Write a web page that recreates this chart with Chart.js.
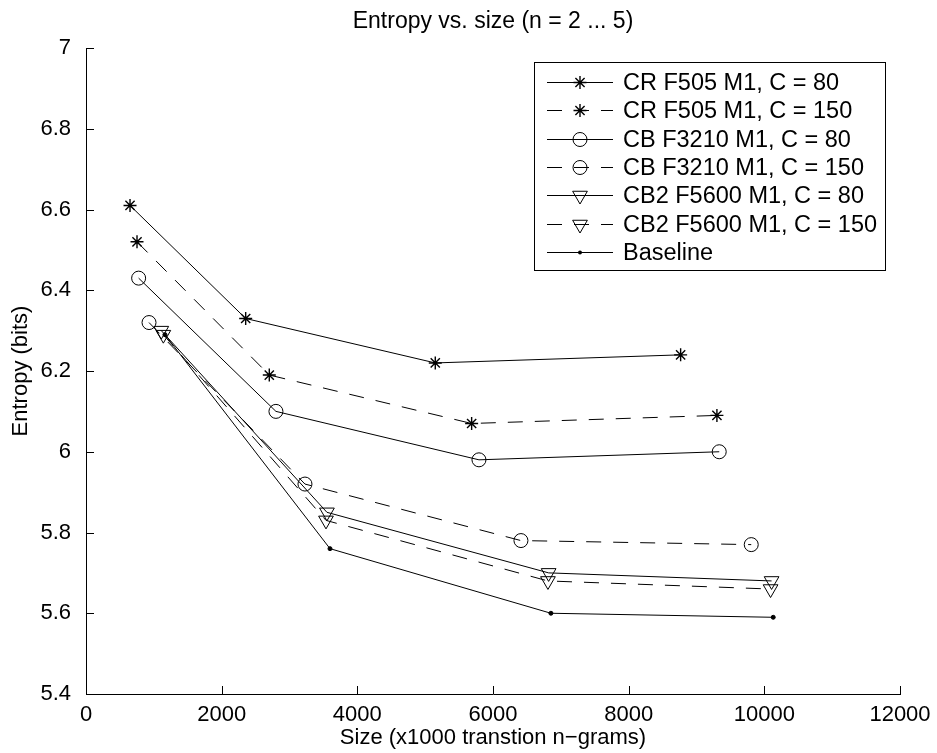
<!DOCTYPE html>
<html>
<head>
<meta charset="utf-8">
<title>Entropy vs. size</title>
<script src="https://cdn.jsdelivr.net/npm/chart.js@4.4.1/dist/chart.umd.min.js"></script>
<style>
  body { margin: 0; background: #fff; }
  canvas { display: block; }
</style>
</head>
<body>
<canvas id="entropyChart" width="937" height="753"></canvas>
<script>
// ============= Dados =============
const seriesNames = [
  "CR F505 M1, C = 80",
  "CR F505 M1, C = 150",
  "CB F3210 M1, C = 80",
  "CB F3210 M1, C = 150",
  "CB2 F5600 M1, C = 80",
  "CB2 F5600 M1, C = 150",
  "Baseline",
];

const crC80X = [649, 2354, 5149, 8766];
const crC80Y = [6.61, 6.33, 6.22, 6.24];
const crC150X = [752, 2702, 5685, 9301];
const crC150Y = [6.52, 6.19, 6.07, 6.09];
const cbC80X = [776, 2800, 5793, 9335];
const cbC80Y = [6.43, 6.1, 5.98, 6.0];
const cbC150X = [929, 3228, 6412, 9807];
const cbC150Y = [6.32, 5.92, 5.78, 5.77];
const cb2C80X = [1110, 3552, 6820, 10107];
const cb2C80Y = [6.3, 5.85, 5.7, 5.68];
const cb2C150X = [1140, 3538, 6810, 10092];
const cb2C150Y = [6.29, 5.83, 5.68, 5.66];
const baselineX = [1164, 3597, 6854, 10131];
const baselineY = [6.29, 5.76, 5.6, 5.59];

const xTicks = [0, 2000, 4000, 6000, 8000, 10000, 12000];
const yTicks = [5.4, 5.6, 5.8, 6, 6.2, 6.4, 6.6, 6.8, 7];

const FONT = "'Liberation Sans', Arial, Helvetica, sans-serif";
const DASH = [15, 12];

const pts = (xs, ys) => xs.map((x, i) => ({ x, y: ys[i] }));

function serie(label, xs, ys, style, dashed) {
  const base = {
    label,
    data: pts(xs, ys),
    showLine: true,
    borderColor: "#000",
    borderWidth: 1,
    borderDash: dashed ? DASH : [],
    pointBorderColor: "#000",
    pointBorderWidth: 1,
    pointBackgroundColor: "rgba(0,0,0,0)",
    pointStyle: style,
    pointRadius: 6.5,
    pointRotation: 0,
  };
  if (style === "star") base.pointBorderWidth = 1.4;
  if (style === "circle") base.pointRadius = 7;
  if (style === "triangle") {
    base.pointRadius = 8.5;
    base.pointRotation = 180;
  }
  if (style === "dot") {
    base.pointStyle = "circle";
    base.pointRadius = 2;
    base.pointBackgroundColor = "#000";
  }
  return base;
}

const datasets = [
  serie(seriesNames[0], crC80X, crC80Y, "star", false),
  serie(seriesNames[1], crC150X, crC150Y, "star", true),
  serie(seriesNames[2], cbC80X, cbC80Y, "circle", false),
  serie(seriesNames[3], cbC150X, cbC150Y, "circle", true),
  serie(seriesNames[4], cb2C80X, cb2C80Y, "triangle", false),
  serie(seriesNames[5], cb2C150X, cb2C150Y, "triangle", true),
  serie(seriesNames[6], baselineX, baselineY, "dot", false),
];
const legendStyles = ["star", "star", "circle", "circle", "triangle", "triangle", "dot"];

// ============= Marcadores da legenda =============
function drawMarker(ctx, style, x, y) {
  ctx.save();
  ctx.setLineDash([]);
  ctx.strokeStyle = "#000";
  ctx.fillStyle = "#000";
  ctx.lineWidth = 1;
  ctx.beginPath();
  if (style === "star") {
    const r = 6.5, d = r * Math.SQRT1_2;
    ctx.lineWidth = 1.4;
    ctx.moveTo(x - r, y); ctx.lineTo(x + r, y);
    ctx.moveTo(x, y - r); ctx.lineTo(x, y + r);
    ctx.moveTo(x - d, y - d); ctx.lineTo(x + d, y + d);
    ctx.moveTo(x - d, y + d); ctx.lineTo(x + d, y - d);
    ctx.stroke();
  } else if (style === "circle") {
    ctx.arc(x, y, 7, 0, Math.PI * 2);
    ctx.stroke();
  } else if (style === "triangle") {
    const r = 8.5;
    let a = Math.PI;
    ctx.moveTo(x + Math.sin(a) * r, y - Math.cos(a) * r);
    a += (2 * Math.PI) / 3;
    ctx.lineTo(x + Math.sin(a) * r, y - Math.cos(a) * r);
    a += (2 * Math.PI) / 3;
    ctx.lineTo(x + Math.sin(a) * r, y - Math.cos(a) * r);
    ctx.closePath();
    ctx.stroke();
  } else {
    ctx.arc(x, y, 2, 0, Math.PI * 2);
    ctx.fill();
  }
  ctx.restore();
}

// título, ticks para dentro e legenda estilo MATLAB
const matlabLook = {
  id: "matlabLook",
  afterDraw(chart) {
    const { ctx, chartArea, scales } = chart;
    ctx.save();

    // título
    ctx.fillStyle = "#000";
    ctx.font = `23px ${FONT}`;
    ctx.textAlign = "center";
    ctx.textBaseline = "middle";
    ctx.fillText("Entropy vs. size (n = 2 ... 5)", (chartArea.left + chartArea.right) / 2, 22);

    // ticks para dentro
    ctx.strokeStyle = "#000";
    ctx.lineWidth = 1;
    ctx.beginPath();
    xTicks.forEach((v) => {
      const px = Math.round(scales.x.getPixelForValue(v)) + 0.5;
      ctx.moveTo(px, chartArea.bottom);
      ctx.lineTo(px, chartArea.bottom - 8);
    });
    yTicks.forEach((v) => {
      const py = Math.round(scales.y.getPixelForValue(v)) + 0.5;
      ctx.moveTo(chartArea.left, py);
      ctx.lineTo(chartArea.left + 8, py);
    });
    ctx.stroke();

    // legenda
    const bx = 534.5, by = 62.5, bw = 351, bh = 208;
    ctx.fillStyle = "#fff";
    ctx.fillRect(bx, by, bw, bh);
    ctx.strokeRect(bx, by, bw, bh);
    ctx.font = `23.5px ${FONT}`;
    ctx.textAlign = "left";
    ctx.textBaseline = "middle";
    chart.data.datasets.forEach((ds, i) => {
      const ry = Math.round(81.7 + i * 28.4) + 0.5;
      ctx.save();
      ctx.setLineDash(ds.borderDash);
      ctx.beginPath();
      ctx.moveTo(547, ry);
      ctx.lineTo(613, ry);
      ctx.stroke();
      ctx.restore();
      drawMarker(ctx, legendStyles[i], 580, ry);
      ctx.fillStyle = "#000";
      ctx.fillText(ds.label, 623, ry + 1);
    });
    ctx.restore();
  },
};

Chart.defaults.font.family = FONT;
Chart.defaults.font.size = 22;
Chart.defaults.color = "#000";

new Chart(document.getElementById("entropyChart"), {
  type: "scatter",
  data: { datasets },
  options: {
    responsive: false,
    animation: false,
    layout: { padding: { top: 48, right: 37, left: 0, bottom: 0 } },
    plugins: {
      legend: { display: false },
      tooltip: { enabled: false },
      title: { display: false },
    },
    scales: {
      x: {
        type: "linear",
        min: 0,
        max: 12000,
        grid: { display: false },
        border: { display: true, color: "#000", width: 1 },
        afterBuildTicks: (s) => { s.ticks = xTicks.map((v) => ({ value: v })); },
        afterFit: (s) => { s.height = 59; },
        ticks: {
          padding: 0,
          maxRotation: 0,
          autoSkip: false,
          font: { size: 22 },
          callback: (v) => String(v),
        },
        title: {
          display: true,
          text: "Size (x1000 transtion n\u2212grams)",
          font: { size: 22 },
          padding: { top: 0, bottom: 2 },
        },
      },
      y: {
        type: "linear",
        min: 5.4,
        max: 7,
        grid: { display: false },
        border: { display: true, color: "#000", width: 1 },
        afterBuildTicks: (s) => { s.ticks = yTicks.map((v) => ({ value: v })); },
        afterFit: (s) => { s.width = 86; },
        ticks: {
          padding: 7,
          autoSkip: false,
          font: { size: 22 },
          callback: (v) => String(Math.round(v * 10) / 10),
        },
        title: {
          display: true,
          text: "Entropy (bits)",
          font: { size: 22 },
          padding: { top: 8, bottom: 0 },
        },
      },
    },
  },
  plugins: [matlabLook],
});
</script>
</body>
</html>
